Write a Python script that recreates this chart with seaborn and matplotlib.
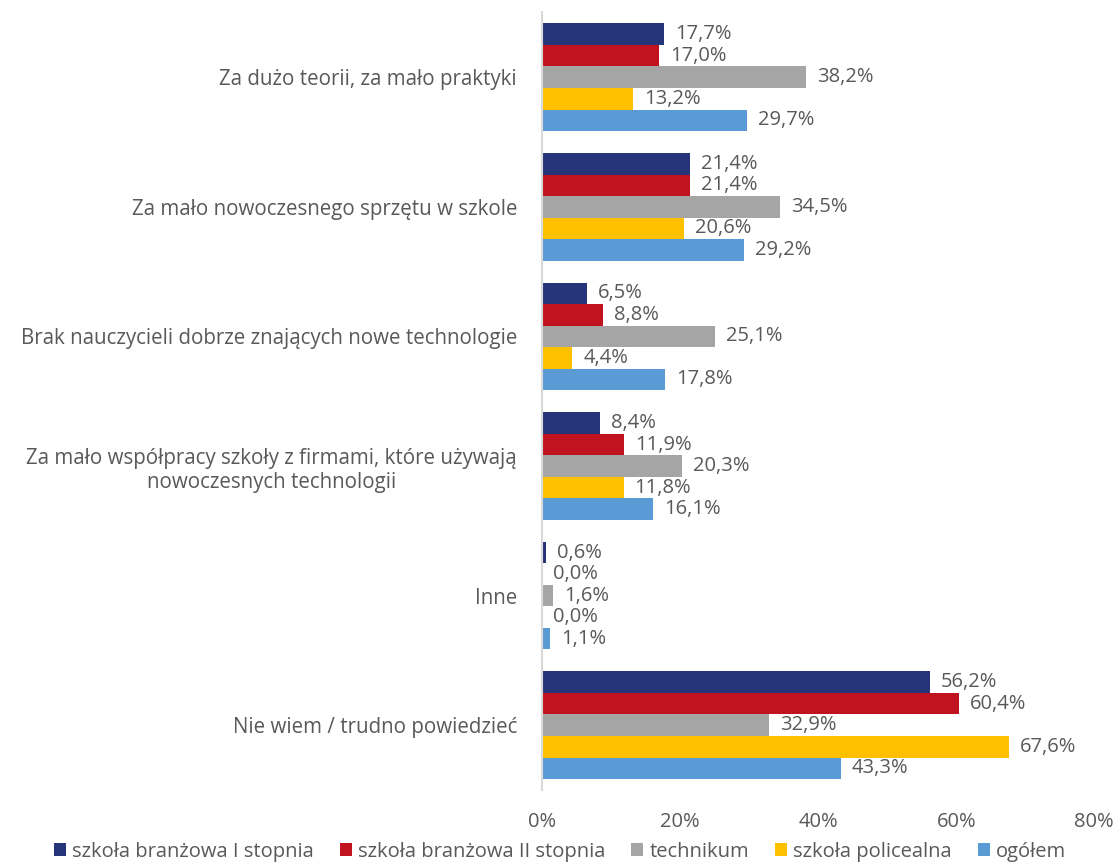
import numpy as np
import pandas as pd
import matplotlib
matplotlib.use("Agg")
import matplotlib.pyplot as plt
import seaborn as sns

CATEGORIES = [
    "Za dużo teorii, za mało praktyki",
    "Za mało nowoczesnego sprzętu w szkole",
    "Brak nauczycieli dobrze znających nowe technologie",
    "Za mało współpracy szkoły z firmami, które używają\nnowoczesnych technologii",
    "Inne",
    "Nie wiem / trudno powiedzieć",
]
SERIES = [
    "szkoła branżowa I stopnia",
    "szkoła branżowa II stopnia",
    "technikum",
    "szkoła policealna",
    "ogółem",
]
BRANZOWA_I = [17.7, 21.4, 6.5, 8.4, 0.6, 56.2]
BRANZOWA_II = [17.0, 21.4, 8.8, 11.9, 0.0, 60.4]
TECHNIKUM = [38.2, 34.5, 25.1, 20.3, 1.6, 32.9]
POLICEALNA = [13.2, 20.6, 4.4, 11.8, 0.0, 67.6]
OGOLEM = [29.7, 29.2, 17.8, 16.1, 1.1, 43.3]
COLORS = ["#263579", "#C0121F", "#A5A5A5", "#FFC000", "#5B9BD5"]
XTICKS = [0, 20, 40, 60, 80]

values = [BRANZOWA_I, BRANZOWA_II, TECHNIKUM, POLICEALNA, OGOLEM]
rows = []
for s, vals in zip(SERIES, values):
    for c, v in zip(CATEGORIES, vals):
        rows.append({"kategoria": c, "seria": s, "wartosc": v})
df = pd.DataFrame(rows)

sns.set_style("white")
plt.rcParams["font.family"] = ["Open Sans", "DejaVu Sans"]
text_color = "#595959"

fig = plt.figure(figsize=(11.2, 8.64), dpi=100)
ax = fig.add_axes([0.484, 0.0856, 0.493, 0.9])

sns.barplot(
    data=df, y="kategoria", x="wartosc", hue="seria",
    order=CATEGORIES, hue_order=SERIES, palette=COLORS,
    orient="h", width=0.83, saturation=1, linewidth=0, ax=ax, legend=True,
)

for container in ax.containers:
    labels = [f"{v:.1f}%".replace(".", ",") for v in container.datavalues]
    ax.bar_label(container, labels=labels, padding=8, fontsize=14.5, color=text_color)

ax.set_xlim(0, 80)
ax.set_xticks(XTICKS)
ax.set_xticklabels([f"{t}%" for t in XTICKS])
ax.set_xlabel("")
ax.set_ylabel("")
ax.tick_params(axis="x", length=0, pad=16, labelsize=14.5, labelcolor=text_color)
ax.tick_params(axis="y", length=0, pad=18, labelsize=14.8, labelcolor=text_color)
for lbl in ax.get_yticklabels():
    lbl.set_multialignment("center")

for side in ["top", "right", "bottom"]:
    ax.spines[side].set_visible(False)
ax.spines["left"].set_color("#D9D9D9")
ax.spines["left"].set_linewidth(1.5)

handles, labels = ax.get_legend_handles_labels()
ax.legend_.remove()
fig.legend(
    handles, labels, loc="center", bbox_to_anchor=(0.5, 0.014), ncol=5,
    frameon=False, fontsize=14.5, handlelength=0.6, handleheight=0.6,
    handletextpad=0.3, columnspacing=1.3, labelcolor=text_color,
)

fig.savefig("out.png", dpi=100)
